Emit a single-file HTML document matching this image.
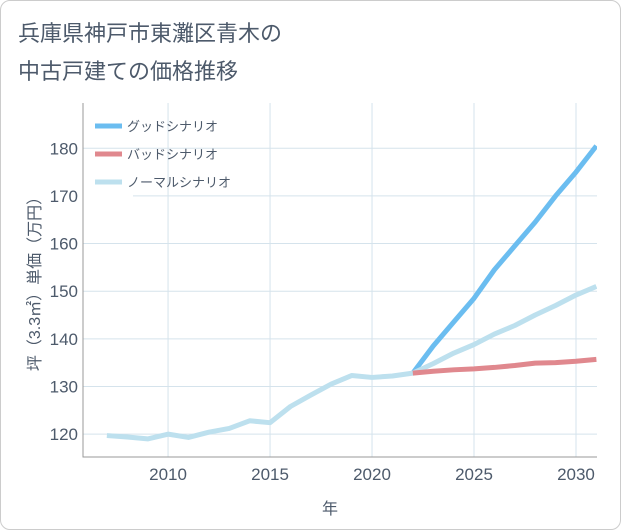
<!DOCTYPE html>
<html><head><meta charset="utf-8"><style>
body{margin:0;background:#fff;font-family:"Liberation Sans","Noto Sans CJK JP",sans-serif}
#card{position:absolute;left:0;top:0;width:619px;height:528px;border:1px solid #ccc;border-radius:10px;background:#fff}
</style></head><body>
<div id="card"></div>
<svg id="chart" width="621" height="530" style="position:absolute;left:0;top:0">
<defs><clipPath id="plotclip"><rect x="83" y="103" width="514" height="354"/></clipPath></defs>
<text x="18" y="41" font-size="22" fill="#4d5a6b">兵庫県神戸市東灘区青木の</text>
<text x="18" y="79" font-size="22" fill="#4d5a6b">中古戸建ての価格推移</text>
<g id="grid"></g><g id="series" clip-path="url(#plotclip)"></g><g id="axes"></g>
<g>
<line x1="95" y1="126" x2="122" y2="126" stroke="#6bbdf0" stroke-width="5"/>
<text x="127" y="131" font-size="13" fill="#4d5a6b">グッドシナリオ</text>
<line x1="95" y1="154" x2="122" y2="154" stroke="#e0888e" stroke-width="5"/>
<text x="127" y="159" font-size="13" fill="#4d5a6b">バッドシナリオ</text>
<line x1="95" y1="182" x2="122" y2="182" stroke="#bde0ee" stroke-width="5"/>
<text x="127" y="187" font-size="13" fill="#4d5a6b">ノーマルシナリオ</text>
</g>
<text x="330" y="514" font-size="16" fill="#4d5a6b" text-anchor="middle">年</text>
<text transform="translate(40,280) rotate(-90)" font-size="16" fill="#4d5a6b" text-anchor="middle">坪（3.3㎡）単価（万円）</text>
</svg>
<script>
const normalYears=[2007,2008,2009,2010,2011,2012,2013,2014,2015,2016,2017,2018,2019,2020,2021,2022,2023,2024,2025,2026,2027,2028,2029,2030,2031];
const normalValues=[119.7,119.4,119,120,119.3,120.4,121.2,122.8,122.4,125.8,128.2,130.5,132.3,131.9,132.2,132.8,134.8,137,138.8,141,142.8,145,147,149.2,151];
const goodYears=[2022,2023,2024,2025,2026,2027,2028,2029,2030,2031];
const goodValues=[132.8,138.5,143.5,148.5,154.5,159.5,164.5,170,175,180.5];
const badYears=[2022,2023,2024,2025,2026,2027,2028,2029,2030,2031];
const badValues=[132.8,133.2,133.5,133.7,134,134.4,134.9,135,135.3,135.7];
const xTicks=[2010,2015,2020,2025,2030];
const yTicks=[120,130,140,150,160,170,180];
const L=83,R=597,T=103,B=457,X0=2005.83,X1=2031.03,Y0=115.2,Y1=189.5;
const sx=v=>L+(v-X0)/(X1-X0)*(R-L), sy=v=>B-(v-Y0)/(Y1-Y0)*(B-T);
const ns="http://www.w3.org/2000/svg";
function mk(tag,attrs,parent){const e=document.createElementNS(ns,tag);for(const k in attrs)e.setAttribute(k,attrs[k]);document.getElementById(parent).appendChild(e);return e;}
xTicks.forEach(t=>{
 const g=mk('line',{x1:sx(t),x2:sx(t),y1:T,y2:B,stroke:'#d5e3ec','stroke-width':1},'grid');
 
 
 const tx=mk('text',{x:sx(t),y:B+23,'font-size':17,fill:'#4d5a6b','text-anchor':'middle'},'axes');
 tx.textContent=t;
 
 
});
yTicks.forEach(t=>{
 const g=mk('line',{x1:t===170?133:L,x2:R,y1:sy(t),y2:sy(t),stroke:'#d5e3ec','stroke-width':1},'grid');
 
 
 const tx=mk('text',{x:L-5,y:sy(t)+6,'font-size':17,fill:'#4d5a6b','text-anchor':'end'},'axes');
 tx.textContent=t;
 
 
});
const ax=mk('path',{d:`M${L},${T}V${B}H${R}`,fill:'none',stroke:'#999','stroke-width':1},'axes');


function line(xs,ys,color,name){
 const p=mk('polyline',{points:xs.map((x,i)=>sx(x)+','+sy(ys[i])).join(' '),fill:'none',stroke:color,'stroke-width':5,'stroke-linejoin':'round'},'series');
 
 
}
line(goodYears,goodValues,'#6bbdf0','good-scenario-line');
line(normalYears,normalValues,'#bde0ee','normal-scenario-line');
line(badYears,badValues,'#e0888e','bad-scenario-line');
</script>
</body></html>
